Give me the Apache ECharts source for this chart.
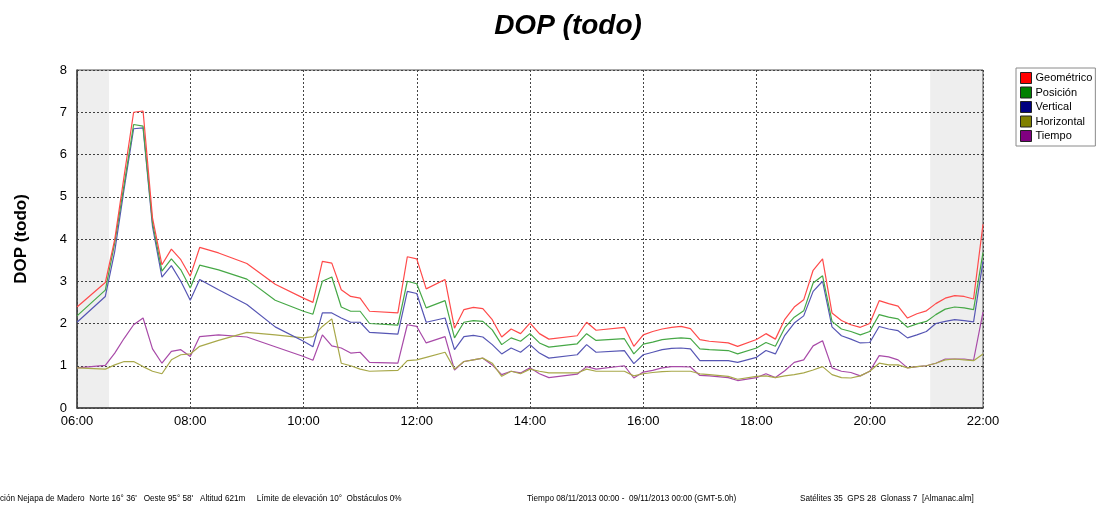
<!DOCTYPE html>
<html>
<head>
<meta charset="utf-8">
<script src="https://cdn.jsdelivr.net/npm/echarts@6/dist/echarts.min.js"></script>
<style>
html,body{margin:0;padding:0;background:#fff;}
#chart{width:1098px;height:506px;}
</style>
</head>
<body>
<div id="chart"></div>
<script>
const times = ["06:00","06:30","06:40","06:50","07:00","07:10","07:20","07:30","07:40","07:50","08:00","08:10","08:30","09:00","09:30","10:00","10:10","10:20","10:30","10:40","10:50","11:00","11:10","11:40","11:50","12:00","12:10","12:30","12:40","12:50","13:00","13:10","13:20","13:30","13:40","13:50","14:00","14:10","14:20","14:50","15:00","15:10","15:40","15:50","16:00","16:10","16:20","16:30","16:40","16:50","17:00","17:10","17:30","17:40","18:00","18:10","18:20","18:30","18:40","18:50","19:00","19:10","19:20","19:30","19:40","19:50","20:00","20:10","20:20","20:30","20:40","20:50","21:00","21:10","21:20","21:30","21:40","21:50","22:00"];

const geometrico = [2.39,2.97,3.99,5.5,7.0,7.03,4.5,3.39,3.76,3.51,
3.12,3.80,3.67,3.42,2.93,2.6,2.50,3.47,3.43,2.80,
2.64,2.6,2.29,2.25,3.58,3.53,2.82,3.04,1.89,2.33,
2.38,2.35,2.09,1.68,1.87,1.76,2.01,1.76,1.63,1.71,
2.03,1.84,1.91,1.46,1.73,1.81,1.87,1.91,1.93,1.88,
1.62,1.58,1.54,1.46,1.62,1.76,1.63,2.1,2.39,2.56,
3.26,3.53,2.25,2.07,1.97,1.91,2.0,2.54,2.47,2.41,
2.13,2.23,2.30,2.47,2.60,2.66,2.64,2.58,4.35];

const posicion = [2.18,2.79,3.91,5.3,6.71,6.67,4.38,3.24,3.53,3.27,
2.84,3.38,3.27,3.05,2.55,2.29,2.22,3.0,3.1,2.39,
2.29,2.29,2.0,1.96,3.0,2.94,2.37,2.54,1.66,2.03,
2.07,2.05,1.85,1.50,1.66,1.58,1.76,1.54,1.44,1.52,
1.76,1.60,1.64,1.28,1.51,1.56,1.62,1.64,1.66,1.64,
1.40,1.38,1.36,1.28,1.42,1.55,1.46,1.9,2.15,2.30,
2.96,3.13,2.05,1.87,1.81,1.73,1.81,2.21,2.15,2.11,
1.91,1.99,2.05,2.21,2.34,2.39,2.37,2.33,3.68];

const vertical = [2.03,2.64,3.71,5.2,6.61,6.63,4.30,3.10,3.37,3.0,
2.55,3.04,2.80,2.45,1.92,1.58,1.45,2.25,2.25,2.13,
2.03,2.03,1.79,1.75,2.76,2.71,2.03,2.13,1.38,1.69,
1.72,1.68,1.50,1.28,1.42,1.32,1.50,1.30,1.18,1.26,
1.50,1.32,1.36,1.05,1.26,1.32,1.38,1.41,1.42,1.40,
1.12,1.12,1.12,1.08,1.20,1.36,1.28,1.72,2.01,2.18,
2.76,3.0,1.92,1.71,1.63,1.54,1.55,1.93,1.87,1.83,
1.66,1.73,1.81,2.0,2.05,2.09,2.07,2.04,3.47];

const horizontal = [0.95,0.92,1.02,1.10,1.10,0.98,0.87,0.81,1.14,1.26,
1.28,1.46,1.60,1.79,1.73,1.66,1.69,1.93,2.11,1.06,
1.0,0.92,0.87,0.89,1.12,1.14,1.20,1.32,0.92,1.10,
1.14,1.18,1.06,0.75,0.87,0.81,0.92,0.87,0.83,0.83,
0.92,0.87,0.87,0.76,0.81,0.84,0.86,0.87,0.87,0.87,
0.81,0.79,0.75,0.68,0.75,0.76,0.72,0.76,0.79,0.83,
0.90,0.98,0.79,0.72,0.71,0.76,0.87,1.06,1.02,1.02,
0.95,0.98,1.0,1.06,1.14,1.16,1.14,1.12,1.28];

const tiempo = [0.95,1.01,1.30,1.65,1.97,2.13,1.40,1.06,1.34,1.38,
1.22,1.69,1.73,1.68,1.45,1.22,1.13,1.73,1.47,1.42,
1.30,1.32,1.08,1.06,1.97,1.93,1.54,1.69,0.90,1.10,
1.14,1.18,1.02,0.79,0.87,0.83,0.95,0.81,0.72,0.80,
0.98,0.92,1.0,0.71,0.85,0.89,0.95,0.98,0.98,0.97,
0.77,0.76,0.72,0.65,0.72,0.81,0.72,0.88,1.08,1.14,
1.47,1.59,0.95,0.87,0.84,0.76,0.87,1.24,1.21,1.14,
0.95,0.98,1.0,1.06,1.16,1.16,1.16,1.13,2.27];

const seriesNames = ["Geométrico","Posición","Vertical","Horizontal","Tiempo"];
const legendColors = ["#ff0000","#008000","#000080","#808000","#800080"];
const lineColors = ["#ff4a4a","#46a846","#5656b4","#a8a84a","#a84aa8"];
const xTicks = ["06:00","08:00","10:00","12:00","14:00","16:00","18:00","20:00","22:00"];
const darkPeriods = [["06:00","06:34"],["21:04","22:00"]];

const footerLeft = "ción Nejapa de Madero  Norte 16° 36'   Oeste 95° 58'   Altitud 621m     Límite de elevación 10°  Obstáculos 0%";
const footerMid = "Tiempo 08/11/2013 00:00 -  09/11/2013 00:00 (GMT-5.0h)";
const footerRight = "Satélites 35  GPS 28  Glonass 7  [Almanac.alm]";

function toHours(s){ const p = s.split(":"); return (+p[0]) + (+p[1])/60; }
function fmt(v){ const h = Math.round(v); return (h<10?"0":"")+h+":00"; }

const allValues = [geometrico,posicion,vertical,horizontal,tiempo];
const xs = times.map(toHours);

const series = seriesNames.map((name,i)=>({
  name: name,
  type: 'line',
  showSymbol: false,
  symbol: 'none',
  animation: false,
  data: xs.map((x,k)=>[x, allValues[i][k]]),
  itemStyle: {color: legendColors[i]},
  lineStyle: {color: lineColors[i], width: 1.2},
  z: 10 - i
}));
series[0].markArea = {
  silent: true,
  itemStyle: {color: 'rgba(0,0,0,0.065)'},
  data: darkPeriods.map(p=>[{xAxis: toHours(p[0])},{xAxis: toHours(p[1])}])
};

const chart = echarts.init(document.getElementById('chart'), null, {renderer:'canvas'});
chart.setOption({
  animation: false,
  backgroundColor: '#fff',
  title: {
    text: 'DOP (todo)',
    left: 563, top: 7, textAlign: 'center',
    textStyle: {fontFamily: 'Liberation Sans, Arial, sans-serif', fontSize: 28, fontWeight: 'bold', fontStyle: 'italic', color: '#000'}
  },
  legend: {
    orient: 'vertical',
    left: 1016, top: 68,
    icon: 'rect',
    itemWidth: 11, itemHeight: 11, itemGap: 2.5,
    padding: [4,3,4,4],
    borderColor: '#8a8a8a', borderWidth: 1,
    itemStyle: {borderColor: '#222', borderWidth: 1},
    textStyle: {fontFamily: 'Liberation Sans, Arial, sans-serif', fontSize: 11, color: '#000', padding: [0,0,0,-1]},
    data: seriesNames
  },
  grid: {
    left: 77, right: 115, top: 70, bottom: 98,
    show: true, borderColor: '#555', borderWidth: 1, backgroundColor: 'transparent'
  },
  xAxis: {
    type: 'value',
    min: 6, max: 22, interval: 2,
    axisLine: {show: true, lineStyle: {color: '#444', width: 1.5}},
    axisTick: {show: false},
    axisLabel: {
      formatter: v => fmt(v),
      fontFamily: 'Liberation Sans, Arial, sans-serif', fontSize: 13, color: '#000', margin: 7
    },
    splitLine: {show: true, lineStyle: {color: '#444', type: [2,2], width: 1}}
  },
  yAxis: {
    type: 'value',
    min: 0, max: 8, interval: 1,
    name: 'DOP (todo)',
    nameLocation: 'middle',
    nameGap: 47,
    nameTextStyle: {fontFamily: 'Liberation Sans, Arial, sans-serif', fontSize: 17, fontWeight: 'bold', color: '#000'},
    axisLine: {show: true, lineStyle: {color: '#444', width: 1.5}},
    axisTick: {show: false},
    axisLabel: {fontFamily: 'Liberation Sans, Arial, sans-serif', fontSize: 13, color: '#000', margin: 10},
    splitLine: {show: true, lineStyle: {color: '#444', type: [2,2], width: 1}}
  },
  graphic: [
    {type:'text', left: 0, top: 495, style:{text: footerLeft, font: '8.2px "Liberation Sans", Arial, sans-serif', fill:'#000'}},
    {type:'text', left: 527, top: 495, style:{text: footerMid, font: '8.2px "Liberation Sans", Arial, sans-serif', fill:'#000'}},
    {type:'text', left: 800, top: 495, style:{text: footerRight, font: '8.2px "Liberation Sans", Arial, sans-serif', fill:'#000'}}
  ],
  series: series
});
</script>
</body>
</html>
